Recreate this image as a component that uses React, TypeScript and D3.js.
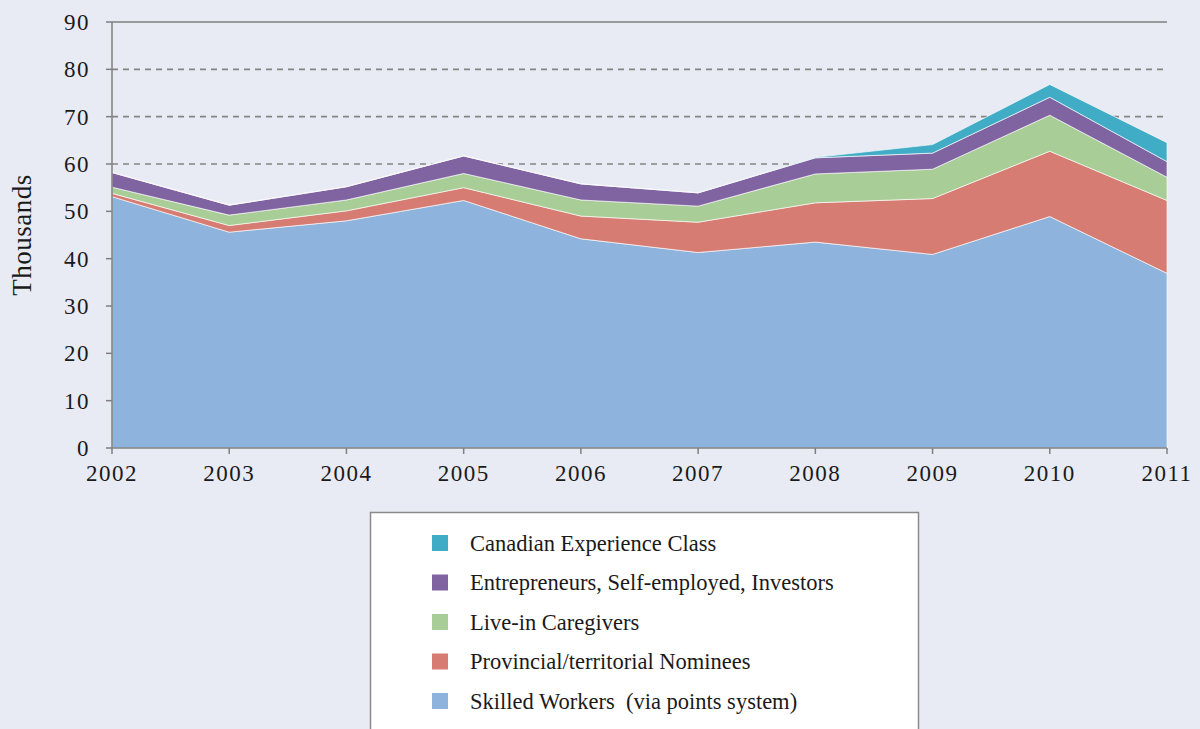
import React from "react";
import * as d3 from "d3";

const years = [2002, 2003, 2004, 2005, 2006, 2007, 2008, 2009, 2010, 2011];
const skilledWorkers = [53.1, 45.6, 48.0, 52.3, 44.2, 41.3, 43.5, 40.9, 48.9, 36.9];
const provincialNominees = [0.7, 1.4, 2.1, 2.7, 4.8, 6.4, 8.3, 11.8, 13.8, 15.4];
const liveInCaregivers = [1.3, 2.2, 2.3, 3.0, 3.4, 3.4, 6.1, 6.2, 7.6, 4.9];
const entrepreneurs = [3.1, 2.1, 2.8, 3.7, 3.4, 2.8, 3.4, 3.4, 3.8, 3.3];
const canadianExperience = [0, 0, 0, 0, 0, 0, 0.1, 1.8, 2.7, 4.0];
const yTicks = [0, 10, 20, 30, 40, 50, 60, 70, 80, 90];

const seriesKeys = ["skilled", "pn", "lc", "ent", "cec"];
const seriesLabels: Record<string, string> = {
  cec: "Canadian Experience Class",
  ent: "Entrepreneurs, Self-employed, Investors",
  lc: "Live-in Caregivers",
  pn: "Provincial/territorial Nominees",
  skilled: "Skilled Workers  (via points system)",
};
const seriesColors: Record<string, string> = {
  cec: "#41acc6",
  ent: "#8064a2",
  lc: "#a9cd96",
  pn: "#d67c72",
  skilled: "#8eb3dc",
};
const legendOrder = ["cec", "ent", "lc", "pn", "skilled"];

const W = 1200;
const H = 729;
const left = 112;
const right = 1167;
const top = 22;
const bottom = 448;
const FONT = "'Liberation Serif', 'Times New Roman', serif";

export default function App() {
  const rows = years.map((y, i) => ({
    year: y,
    skilled: skilledWorkers[i],
    pn: provincialNominees[i],
    lc: liveInCaregivers[i],
    ent: entrepreneurs[i],
    cec: canadianExperience[i],
  }));
  const x = d3.scaleLinear().domain([2002, 2011]).range([left, right]);
  const y = d3.scaleLinear().domain([0, 90]).range([bottom, top]);
  const stack = d3.stack<any>().keys(seriesKeys);
  const layers = stack(rows);
  const area = d3
    .area<any>()
    .x((d) => x(d.data.year))
    .y0((d) => y(d[0]))
    .y1((d) => y(d[1]));

  return (
    <svg
      width={W}
      height={H}
      style={{ position: "absolute", left: 0, top: 0, display: "block" }}
      fontFamily={FONT}
    >
      <rect x={0} y={0} width={W} height={H} fill="#e8ebf3" />
      {yTicks
        .filter((t) => t > 0 && t < 90)
        .map((t) => (
          <line
            key={"g" + t}
            x1={left}
            x2={right}
            y1={y(t)}
            y2={y(t)}
            stroke="#858585"
            strokeWidth={1.6}
            strokeDasharray="6,5"
          />
        ))}
      {layers.map((l) => (
        <path
          key={l.key}
          d={area(l) || ""}
          fill={seriesColors[l.key]}
          stroke="#ffffff"
          strokeWidth={0.8}
          strokeOpacity={0.8}
        />
      ))}
      <line x1={left} x2={right} y1={y(90)} y2={y(90)} stroke="#7f7f7f" strokeWidth={1.5} />
      <line x1={left} x2={left} y1={top} y2={bottom} stroke="#7f7f7f" strokeWidth={1.5} />
      <line x1={left} x2={right} y1={bottom} y2={bottom} stroke="#7f7f7f" strokeWidth={1.5} />
      {yTicks.map((t) => (
        <g key={"yt" + t}>
          <line x1={left - 6} x2={left} y1={y(t)} y2={y(t)} stroke="#7f7f7f" strokeWidth={1.5} />
          <text
            x={left - 22}
            y={y(t)}
            dy="0.35em"
            textAnchor="end"
            fontSize={23}
            letterSpacing={1.5}
            fill="#1a1a1a"
          >
            {t}
          </text>
        </g>
      ))}
      {years.map((yr) => (
        <g key={"xt" + yr}>
          <line x1={x(yr)} x2={x(yr)} y1={bottom} y2={bottom + 6} stroke="#7f7f7f" strokeWidth={1.5} />
          <text
            x={x(yr)}
            y={bottom + 33}
            textAnchor="middle"
            fontSize={23}
            letterSpacing={1.5}
            fill="#1a1a1a"
          >
            {yr}
          </text>
        </g>
      ))}
      <text
        transform={`translate(31, ${(top + bottom) / 2}) rotate(-90)`}
        textAnchor="middle"
        fontSize={27}
        letterSpacing={0.5}
        fill="#1a1a1a"
      >
        Thousands
      </text>
      <rect x={370.5} y={512.5} width={548} height={230} fill="#ffffff" stroke="#8a8a8a" strokeWidth={1.5} />
      {legendOrder.map((k, i) => (
        <g key={"lg" + k} transform={`translate(432, ${543 + i * 39.5})`}>
          <rect x={0} y={-8} width={16} height={16} fill={seriesColors[k]} />
          <text
            x={38}
            y={0}
            dy="0.35em"
            fontSize={22.5}
            fill="#1a1a1a"
            style={{ whiteSpace: "pre" }}
          >
            {seriesLabels[k]}
          </text>
        </g>
      ))}
    </svg>
  );
}
